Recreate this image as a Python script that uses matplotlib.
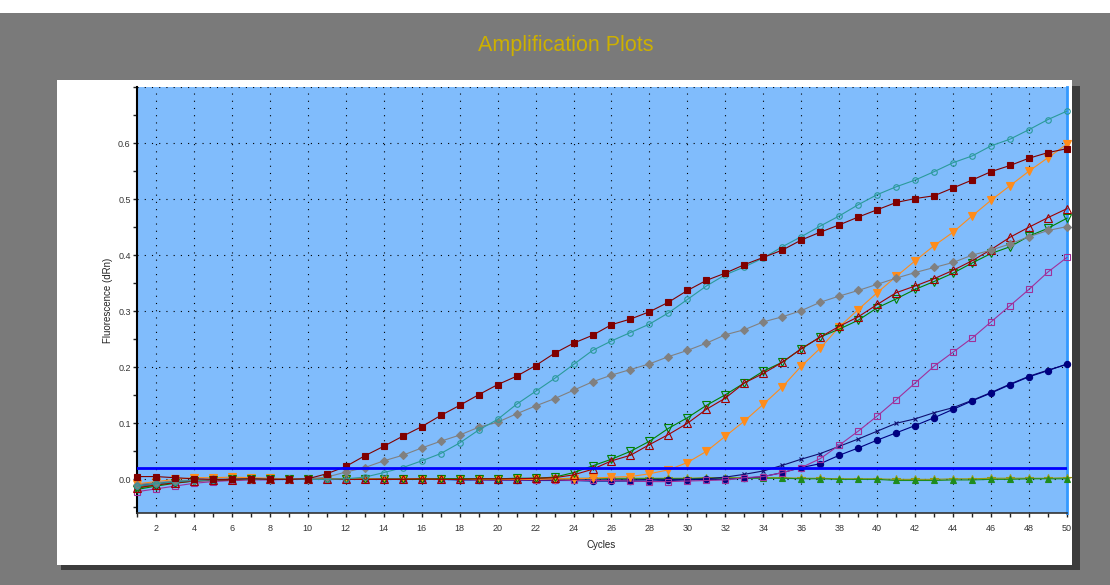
import matplotlib
matplotlib.use("Agg")
import matplotlib.pyplot as plt
from matplotlib.patches import Rectangle
from matplotlib.ticker import MultipleLocator, FixedLocator

plt.rcParams['font.family'] = ['Liberation Sans', 'DejaVu Sans']

cycles = list(range(1, 51))

maroon_sq = [0.005, 0.005, 0.003, 0.001, 0.000, 0.000, 0.001, 0.000, 0.000, 0.001,
             0.010, 0.023, 0.042, 0.059, 0.077, 0.094, 0.114, 0.132, 0.151, 0.169,
             0.184, 0.203, 0.225, 0.243, 0.257, 0.276, 0.286, 0.299, 0.316, 0.337,
             0.355, 0.368, 0.383, 0.396, 0.409, 0.427, 0.441, 0.454, 0.468, 0.481,
             0.494, 0.501, 0.506, 0.520, 0.534, 0.549, 0.560, 0.573, 0.583, 0.590]

teal_circ = [-0.012, -0.008, -0.004, -0.002, -0.001, 0.000, 0.000, 0.000, 0.000, 0.000,
             0.000, 0.001, 0.004, 0.012, 0.021, 0.033, 0.046, 0.065, 0.088, 0.107,
             0.134, 0.157, 0.180, 0.205, 0.230, 0.247, 0.262, 0.277, 0.297, 0.321,
             0.345, 0.365, 0.379, 0.395, 0.415, 0.433, 0.452, 0.470, 0.490, 0.508,
             0.522, 0.534, 0.549, 0.565, 0.577, 0.595, 0.607, 0.624, 0.642, 0.657]

gray_dia = [-0.010, -0.006, -0.003, -0.001, 0.000, 0.000, 0.000, 0.000, 0.000, 0.001,
            0.004, 0.013, 0.021, 0.033, 0.043, 0.056, 0.068, 0.079, 0.093, 0.102,
            0.117, 0.131, 0.144, 0.159, 0.174, 0.186, 0.196, 0.206, 0.219, 0.230,
            0.243, 0.258, 0.267, 0.281, 0.290, 0.301, 0.316, 0.327, 0.337, 0.348,
            0.359, 0.369, 0.378, 0.387, 0.400, 0.409, 0.420, 0.433, 0.444, 0.451]

red_tri = [-0.015, -0.010, -0.006, -0.003, -0.002, -0.001, 0.000, 0.000, 0.000, 0.000,
           0.000, 0.000, 0.000, 0.000, 0.000, 0.001, 0.000, 0.000, 0.001, 0.001,
           0.001, 0.002, 0.003, 0.008, 0.018, 0.033, 0.043, 0.062, 0.080, 0.100,
           0.125, 0.145, 0.172, 0.189, 0.209, 0.233, 0.254, 0.273, 0.290, 0.312,
           0.333, 0.345, 0.358, 0.373, 0.390, 0.410, 0.432, 0.450, 0.467, 0.483]

green_tri = [-0.018, -0.012, -0.007, -0.003, -0.001, 0.000, 0.000, 0.000, 0.000, 0.000,
             0.000, 0.000, 0.000, 0.000, 0.000, 0.000, 0.001, 0.001, 0.001, 0.001,
             0.002, 0.002, 0.004, 0.012, 0.024, 0.036, 0.050, 0.068, 0.091, 0.110,
             0.132, 0.151, 0.172, 0.193, 0.209, 0.233, 0.254, 0.268, 0.284, 0.306,
             0.322, 0.339, 0.353, 0.368, 0.386, 0.403, 0.415, 0.434, 0.448, 0.466]

orange_tri = [-0.008, -0.004, 0.000, 0.003, 0.003, 0.004, 0.003, 0.002, 0.001, 0.001,
              0.001, 0.001, 0.001, 0.000, 0.000, 0.001, 0.000, 0.000, 0.000, 0.000,
              0.000, 0.000, 0.001, 0.001, 0.002, 0.004, 0.005, 0.010, 0.017, 0.030,
              0.050, 0.077, 0.104, 0.134, 0.165, 0.202, 0.234, 0.272, 0.303, 0.333,
              0.362, 0.390, 0.417, 0.441, 0.470, 0.498, 0.524, 0.550, 0.574, 0.598]

purple_sq = [-0.022, -0.017, -0.012, -0.007, -0.004, -0.002, -0.001, -0.001, 0.000, 0.000,
             0.000, 0.000, 0.000, 0.000, 0.000, 0.000, 0.000, 0.000, -0.001, -0.001,
             -0.001, -0.001, -0.001, -0.002, -0.002, -0.002, -0.003, -0.004, -0.004, -0.003,
             -0.002, -0.001, 0.003, 0.005, 0.012, 0.021, 0.037, 0.061, 0.086, 0.113,
             0.142, 0.172, 0.202, 0.227, 0.252, 0.281, 0.310, 0.339, 0.370, 0.396]

navy_dot = [-0.012, -0.008, -0.004, -0.002, -0.001, 0.000, 0.000, 0.000, 0.000, 0.000,
            0.000, 0.000, 0.000, 0.000, 0.000, 0.000, 0.000, -0.001, -0.001, -0.001,
            -0.001, -0.002, -0.002, -0.002, -0.003, -0.003, -0.003, -0.003, -0.002, -0.001,
            0.000, 0.000, 0.002, 0.005, 0.012, 0.021, 0.028, 0.043, 0.056, 0.070,
            0.083, 0.096, 0.110, 0.125, 0.140, 0.154, 0.169, 0.183, 0.194, 0.206]

navy_x = [-0.010, -0.007, -0.004, -0.002, -0.001, 0.000, 0.000, 0.000, 0.000, 0.000,
          0.000, 0.000, 0.000, 0.000, 0.000, 0.000, 0.000, 0.000, 0.000, -0.001,
          -0.001, -0.001, -0.001, -0.001, -0.001, -0.001, -0.001, 0.000, 0.000, 0.000,
          0.001, 0.004, 0.009, 0.015, 0.025, 0.036, 0.046, 0.059, 0.072, 0.086,
          0.100, 0.108, 0.119, 0.128, 0.141, 0.155, 0.170, 0.184, 0.195, 0.205]

green_flat = [-0.016, -0.010, -0.005, -0.002, -0.001, 0.000, 0.000, 0.000, 0.000, 0.000,
              0.000, 0.000, 0.000, 0.000, 0.000, 0.000, 0.000, 0.000, 0.000, 0.000,
              0.000, 0.000, 0.000, 0.001, 0.001, 0.001, 0.001, 0.001, 0.001, 0.001,
              0.002, 0.002, 0.002, 0.002, 0.002, 0.001, 0.001, 0.000, 0.000, 0.000,
              -0.002, -0.002, -0.002, -0.001, -0.001, 0.000, 0.000, 0.001, 0.001, 0.001]

olive_star = [-0.014, -0.009, -0.005, -0.002, 0.000, 0.000, 0.001, 0.001, 0.001, 0.001,
              0.001, 0.001, 0.001, 0.001, 0.001, 0.001, 0.001, 0.001, 0.001, 0.001,
              0.001, 0.001, 0.001, 0.002, 0.002, 0.002, 0.002, 0.002, 0.002, 0.002,
              0.003, 0.003, 0.003, 0.003, 0.003, 0.002, 0.002, 0.001, 0.001, 0.001,
              0.000, 0.000, 0.000, 0.001, 0.001, 0.002, 0.002, 0.002, 0.002, 0.003]

threshold = 0.02

x_ticks = list(range(2, 51, 2))
y_ticks = [0.0, 0.1, 0.2, 0.3, 0.4, 0.5, 0.6]
y_tick_labels = ["0.0", "0.1", "0.2", "0.3", "0.4", "0.5", "0.6"]

W, H = 1110, 585
fig = plt.figure(figsize=(W / 100, H / 100), dpi=100)
fig.patch.set_facecolor('#7A7A7A')

def px_rect(x0, y0, x1, y1, color, z=0):
    fig.patches.append(Rectangle((x0 / W, 1 - y1 / H), (x1 - x0) / W, (y1 - y0) / H,
                                 transform=fig.transFigure, facecolor=color,
                                 edgecolor='none', zorder=z))

px_rect(0, 0, W, 13, 'white')
px_rect(1072, 86, 1080, 570, '#3C3C3C')
px_rect(61, 565, 1080, 570, '#3C3C3C')
px_rect(57, 80, 1072, 565, 'white', z=1)

fig.text(566 / W, 1 - 46 / H, "Amplification Plots", ha='center', va='center',
         color='#CDB000', fontsize=15.5, zorder=6)

ax = fig.add_axes([137 / W, (H - 513) / H, 930 / W, 426 / H])
ax.set_zorder(5)
ax.set_facecolor('#80BCFC')

series = [
    (olive_star, '#9A9A10', '*', True, 5.5),
    (green_flat, '#1E8C1E', '^', True, 4.5),
    (navy_x, '#101070', 'x', True, 3.5),
    (navy_dot, '#000080', 'o', True, 4.5),
    (purple_sq, '#A0309A', 's', False, 5),
    (orange_tri, '#FF8C1A', 'v', True, 5.5),
    (green_tri, '#008000', 'v', False, 5.5),
    (red_tri, '#A00000', '^', False, 5.5),
    (gray_dia, '#808080', 'D', True, 4.5),
    (teal_circ, '#2A9A9A', 'o', False, 4),
    (maroon_sq, '#800000', 's', True, 5),
]

for vals, col, mk, filled, ms in series:
    ax.plot(cycles, vals, color=col, lw=0.8, marker=mk, markersize=ms,
            markerfacecolor=col if filled else 'none', markeredgecolor=col,
            markeredgewidth=0.8, zorder=3, clip_on=False)

ax.axhline(threshold, color='#0000FF', lw=2.0, zorder=4)

ax.set_xlim(1, 50)
ax.set_ylim(-0.06, 0.70)

ax.xaxis.set_major_locator(FixedLocator(x_ticks))
ax.xaxis.set_minor_locator(MultipleLocator(1))
ax.set_xticklabels([str(t) for t in x_ticks])
ax.yaxis.set_major_locator(FixedLocator(y_ticks + [0.7]))
ax.set_yticklabels(y_tick_labels + [""])
ax.yaxis.set_minor_locator(MultipleLocator(0.05))

ax.tick_params(axis='both', which='both', direction='out', length=3, width=1,
               colors='#222222', labelsize=6.5, labelcolor='#333333')
ax.tick_params(axis='y', pad=1.5)
ax.tick_params(axis='x', pad=5)

ax.grid(True, which='major', color='black', lw=0.8, linestyle=(0, (1, 5.5)), zorder=1)
ax.set_axisbelow(True)

ax.spines['left'].set_color('black')
ax.spines['left'].set_linewidth(1.5)
ax.spines['bottom'].set_color('#333333')
ax.spines['bottom'].set_linewidth(1.2)
ax.spines['right'].set_color('#3399FF')
ax.spines['right'].set_linewidth(2)
ax.spines['top'].set_visible(False)

fig.text(108 / W, 1 - 300 / H, "Fluorescence (dRn)", rotation=90, ha='center',
         va='center', fontsize=7, color='#222222', zorder=6)
fig.text(601 / W, 1 - 545 / H, "Cycles", ha='center', va='center', fontsize=7,
         color='#222222', zorder=6)

fig.savefig("out.png", dpi=100, facecolor=fig.get_facecolor())
